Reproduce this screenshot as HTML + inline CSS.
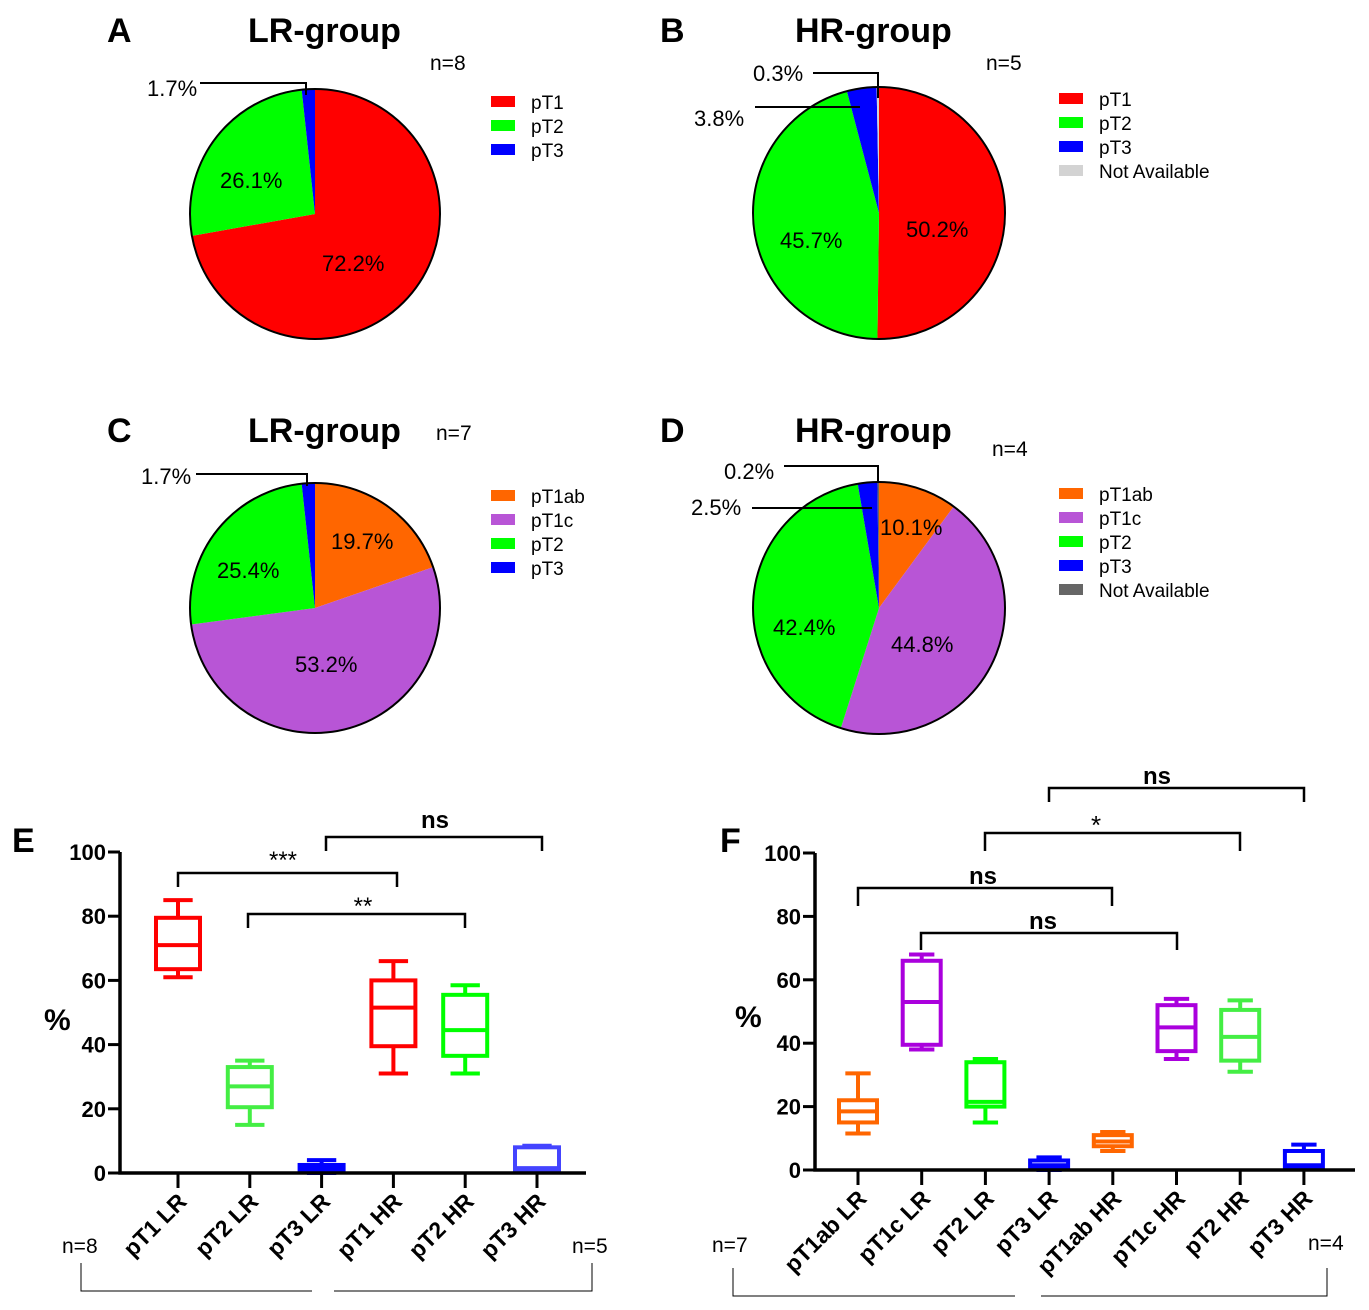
<!DOCTYPE html>
<html><head><meta charset="utf-8"><style>
body{margin:0;background:#fff}
svg{display:block;font-family:"Liberation Sans",sans-serif}
</style></head><body>
<svg id="fig" width="1369" height="1310" viewBox="0 0 1369 1310" xmlns="http://www.w3.org/2000/svg"></svg>
<script>
// Pie data
const pieALabels=["pT1","pT2","pT3"];
const pieAValues=[72.2,26.1,1.7];
const pieBLabels=["pT1","pT2","pT3","Not Available"];
const pieBValues=[50.2,45.7,3.8,0.3];
const pieCLabels=["pT1ab","pT1c","pT2","pT3"];
const pieCValues=[19.7,53.2,25.4,1.7];
const pieDLabels=["pT1ab","pT1c","pT2","pT3","Not Available"];
const pieDValues=[10.1,44.8,42.4,2.5,0.2];
// Box plot E data
const boxECategories=["pT1 LR","pT2 LR","pT3 LR","pT1 HR","pT2 HR","pT3 HR"];
const boxEMin=[61,15,0,31,31,0.5];
const boxEQ1=[63.5,20.5,0.5,39.5,36.5,1];
const boxEMed=[71,27,1.5,51.5,44.5,1.5];
const boxEQ3=[79.5,33,2.5,60,55.5,8];
const boxEMax=[85,35,4,66,58.5,8.5];
const yTicksE=[0,20,40,60,80,100];
// Box plot F data
const boxFCategories=["pT1ab LR","pT1c LR","pT2 LR","pT3 LR","pT1ab HR","pT1c HR","pT2 HR","pT3 HR"];
const boxFMin=[11.5,38,15,0,6,35,31,0.5];
const boxFQ1=[15,39.5,20,0.5,7.5,37.5,34.5,1];
const boxFMed=[18.5,53,21.5,1.5,9,45,42,1.5];
const boxFQ3=[22,66,34,3,11,52,50.5,6];
const boxFMax=[30.5,68,35,4,12,54,53.5,8];
const yTicksF=[0,20,40,60,80,100];

const NS="http://www.w3.org/2000/svg";
const svg=document.getElementById('fig');
function el(tag,attrs,parent,text){const e=document.createElementNS(NS,tag);for(const k in attrs)e.setAttribute(k,attrs[k]);if(text!==undefined)e.textContent=text;(parent||svg).appendChild(e);return e;}

const C={red:"#ff0000",green:"#00ff00",blue:"#0000ff",na:"#d3d3d3",orange:"#ff6600",purple:"#b855d6",dgray:"#666666"};

function pie(prefix,cx,cy,r,labels,values,colors,name){
  const g=el('g',{},svg);
  
  
  const tot=values.reduce((a,b)=>a+b,0);
  let a0=0;
  values.forEach((v,i)=>{
    const a1=a0+v/tot*2*Math.PI;
    const x0=cx+r*Math.sin(a0),y0=cy-r*Math.cos(a0),x1=cx+r*Math.sin(a1),y1=cy-r*Math.cos(a1);
    const large=(a1-a0)>Math.PI?1:0;
    const p=el('path',{d:`M${cx},${cy}L${x0},${y0}A${r},${r} 0 ${large} 1 ${x1},${y1}Z`,fill:colors[i],stroke:"none"},g);
    
    
    a0=a1;
  });
  el('circle',{cx:cx,cy:cy,r:r,fill:"none",stroke:"#000","stroke-width":2},g);
}
function legend(prefix,x,y,labels,colors,step){
  labels.forEach((l,i)=>{
    const r=el('rect',{x:x,y:y+i*step-6,width:24,height:11,fill:colors[i]});
    
    
    const t=el('text',{x:x+40,y:y+i*step+7,"font-size":19,fill:"#000"},svg,l);
    
    
  });
}
function txt(x,y,s,size,opts,name){const t=el('text',Object.assign({x:x,y:y,"font-size":size,fill:"#000"},opts||{}),svg,s);return t;}
function line(pts,w,name){const p=el('polyline',{points:pts,fill:"none",stroke:"#000","stroke-width":w});return p;}

// Panel A
txt(107,42,"A",34,{"font-weight":"bold"},"panel-label-a");
txt(248,42,"LR-group",34,{"font-weight":"bold"},"title-a");
txt(430,70,"n=8",21,{},"n-a");
pie("a",315,214,125,pieALabels,pieAValues,[C.red,C.green,C.blue],"pie-a");
txt(322,271,"72.2%",22,{},"pct-a-pt1");
txt(220,188,"26.1%",22,{},"pct-a-pt2");
txt(147,96,"1.7%",22,{},"pct-a-pt3");
line("200,83 306,83 306,95",2,"leader-a");
legend("a",491,102,pieALabels,[C.red,C.green,C.blue],24);

// Panel B
txt(660,42,"B",34,{"font-weight":"bold"},"panel-label-b");
txt(795,42,"HR-group",34,{"font-weight":"bold"},"title-b");
txt(986,70,"n=5",21,{},"n-b");
pie("b",879,213,126,pieBLabels,pieBValues,[C.red,C.green,C.blue,C.na],"pie-b");
txt(906,237,"50.2%",22,{},"pct-b-pt1");
txt(780,248,"45.7%",22,{},"pct-b-pt2");
txt(694,126,"3.8%",22,{},"pct-b-pt3");
txt(753,81,"0.3%",22,{},"pct-b-na");
line("755,107 860,107",2,"leader-b-pt3");
line("813,73 878,73 878,98",2,"leader-b-na");
legend("b",1059,99,pieBLabels,[C.red,C.green,C.blue,C.na],24);

// Panel C
txt(107,442,"C",34,{"font-weight":"bold"},"panel-label-c");
txt(248,442,"LR-group",34,{"font-weight":"bold"},"title-c");
txt(436,440,"n=7",21,{},"n-c");
pie("c",315,608,125,pieCLabels,pieCValues,[C.orange,C.purple,C.green,C.blue],"pie-c");
txt(331,549,"19.7%",22,{},"pct-c-pt1ab");
txt(295,672,"53.2%",22,{},"pct-c-pt1c");
txt(217,578,"25.4%",22,{},"pct-c-pt2");
txt(141,484,"1.7%",22,{},"pct-c-pt3");
line("196,474 307,474 307,486",2,"leader-c");
legend("c",491,496,pieCLabels,[C.orange,C.purple,C.green,C.blue],24);

// Panel D
txt(660,442,"D",34,{"font-weight":"bold"},"panel-label-d");
txt(795,442,"HR-group",34,{"font-weight":"bold"},"title-d");
txt(992,456,"n=4",21,{},"n-d");
pie("d",879,608,126,pieDLabels,pieDValues,[C.orange,C.purple,C.green,C.blue,C.dgray],"pie-d");
txt(880,535,"10.1%",22,{},"pct-d-pt1ab");
txt(891,652,"44.8%",22,{},"pct-d-pt1c");
txt(773,635,"42.4%",22,{},"pct-d-pt2");
txt(691,515,"2.5%",22,{},"pct-d-pt3");
txt(724,479,"0.2%",22,{},"pct-d-na");
line("752,508 872,508",2,"leader-d-pt3");
line("784,466 878,466 878,482",2,"leader-d-na");
legend("d",1059,494,pieDLabels,[C.orange,C.purple,C.green,C.blue,C.dgray],24);

// Box plot
function boxplot(prefix,ax,cats,mn,q1,md,q3,mx,cols,ticks){
  const y=v=>ax.y0-(v/100)*(ax.y0-ax.y100);
  const g=el('g',{},svg);
  
  
  line(`${ax.x0},${ax.y100} ${ax.x0},${ax.y0} ${ax.x1},${ax.y0}`,3.5,prefix+'-axes');
  ticks.forEach(t=>{
    line(`${ax.x0-12},${y(t)} ${ax.x0},${y(t)}`,3,prefix+'-y-tick');
    txt(ax.x0-14,y(t)+8,String(t),22,{"font-weight":"bold","text-anchor":"end"},prefix+'-y-tick-label');
  });
  cats.forEach((c,i)=>{
    const cx=ax.cx0+i*ax.step;
    line(`${cx},${ax.y0} ${cx},${ax.y0+15}`,3,prefix+'-x-tick');
    txt(cx+10,ax.y0+30,c,23,{"font-weight":"bold","text-anchor":"end",transform:`rotate(-45 ${cx+10} ${ax.y0+30})`},prefix+'-x-label-'+i);
    const w=ax.bw,col=cols[i];
    const bg=el('g',{stroke:col,"stroke-width":4,fill:"none"},g);
    
    
    el('line',{x1:cx,x2:cx,y1:y(mx[i]),y2:y(q3[i])},bg);
    el('line',{x1:cx,x2:cx,y1:y(q1[i]),y2:y(mn[i])},bg);
    el('line',{x1:cx-w/3,x2:cx+w/3,y1:y(mx[i]),y2:y(mx[i])},bg);
    el('line',{x1:cx-w/3,x2:cx+w/3,y1:y(mn[i]),y2:y(mn[i])},bg);
    el('rect',{x:cx-w/2,y:y(q3[i]),width:w,height:Math.max(y(q1[i])-y(q3[i]),1)},bg);
    el('line',{x1:cx-w/2,x2:cx+w/2,y1:y(md[i]),y2:y(md[i])},bg);
  });
}
const axE={x0:120,x1:586,y0:1173,y100:852,cx0:178,step:71.8,bw:44};
boxplot("e",axE,boxECategories,boxEMin,boxEQ1,boxEMed,boxEQ3,boxEMax,[C.red,"#44ee44",C.blue,C.red,C.green,"#4444ff"],yTicksE);
txt(12,852,"E",34,{"font-weight":"bold"},"panel-label-e");
txt(44,1030,"%",30,{"font-weight":"bold"},"y-axis-title-e");
line("178,887 178,873 397,873 397,887",2.5,"bracket-e-pt1");
txt(283,868,"***",24,{"text-anchor":"middle"},"sig-e-pt1");
line("248,928 248,914 465,914 465,928",2.5,"bracket-e-pt2");
txt(363,914,"**",24,{"text-anchor":"middle"},"sig-e-pt2");
line("326,851 326,837 542,837 542,851",2.5,"bracket-e-pt3");
txt(435,828,"ns",24,{"font-weight":"bold","text-anchor":"middle"},"sig-e-pt3");
txt(62,1253,"n=8",21,{},"n-e-lr");
txt(572,1253,"n=5",21,{},"n-e-hr");
line("81,1263 81,1291 312,1291",1,"group-line-e-lr");
line("334,1291 592,1291 592,1263",1,"group-line-e-hr");

const axF={x0:815,x1:1355,y0:1170,y100:853,cx0:858,step:63.7,bw:38};
boxplot("f",axF,boxFCategories,boxFMin,boxFQ1,boxFMed,boxFQ3,boxFMax,[C.orange,"#aa00dd",C.green,C.blue,C.orange,"#aa00dd","#44ee44",C.blue],yTicksF);
txt(720,852,"F",34,{"font-weight":"bold"},"panel-label-f");
txt(735,1027,"%",30,{"font-weight":"bold"},"y-axis-title-f");
line("858,906 858,888 1112,888 1112,906",2.5,"bracket-f-pt1ab");
txt(983,884,"ns",24,{"font-weight":"bold","text-anchor":"middle"},"sig-f-pt1ab");
line("921,950 921,933 1177,933 1177,950",2.5,"bracket-f-pt1c");
txt(1043,929,"ns",24,{"font-weight":"bold","text-anchor":"middle"},"sig-f-pt1c");
line("985,851 985,833 1240,833 1240,851",2.5,"bracket-f-pt2");
txt(1096,834,"*",26,{"text-anchor":"middle"},"sig-f-pt2");
line("1049,802 1049,788 1304,788 1304,802",2.5,"bracket-f-pt3");
txt(1157,784,"ns",24,{"font-weight":"bold","text-anchor":"middle"},"sig-f-pt3");
txt(712,1252,"n=7",21,{},"n-f-lr");
txt(1308,1250,"n=4",21,{},"n-f-hr");
line("733,1268 733,1296 1015,1296",1,"group-line-f-lr");
line("1041,1296 1327,1296 1327,1268",1,"group-line-f-hr");
</script>
</body></html>
